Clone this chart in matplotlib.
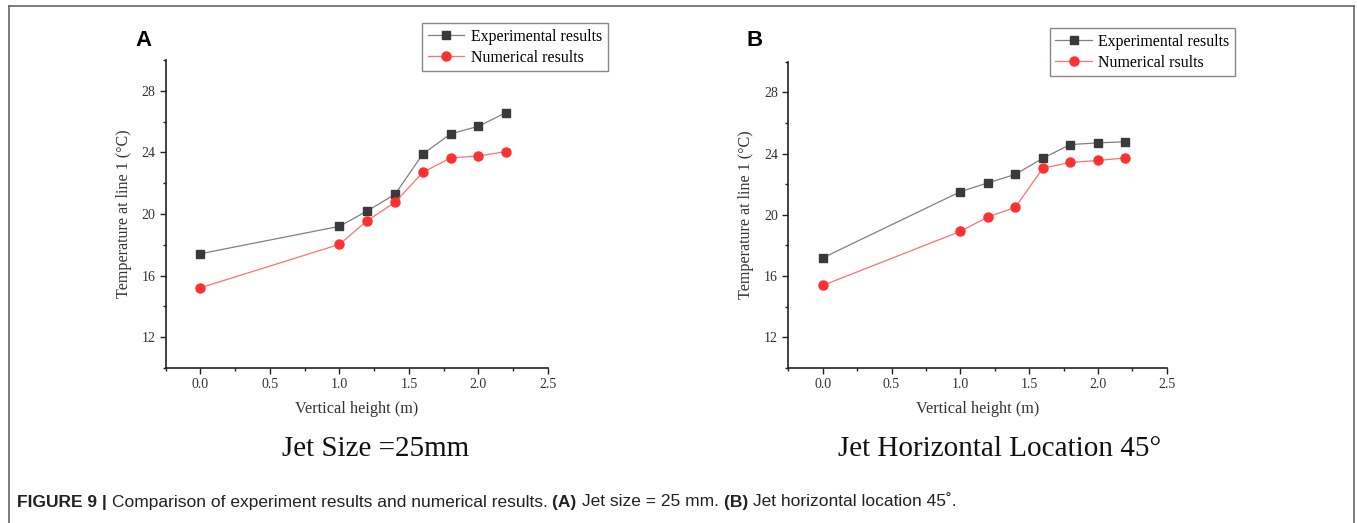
import numpy as np
import matplotlib
matplotlib.use("Agg")
import matplotlib.pyplot as plt
from matplotlib.lines import Line2D
from matplotlib.ticker import MultipleLocator

# data
height = [0.0, 1.0, 1.2, 1.4, 1.6, 1.8, 2.0, 2.2]
exp_a = [17.42, 19.20, 20.20, 21.28, 23.90, 25.20, 25.70, 26.59]
num_a = [15.21, 18.03, 19.57, 20.76, 22.71, 23.64, 23.77, 24.05]
exp_b = [17.19, 21.51, 22.09, 22.64, 23.70, 24.59, 24.70, 24.77]
num_b = [15.39, 18.92, 19.86, 20.49, 23.05, 23.42, 23.55, 23.72]
yticks = [12, 16, 20, 24, 28]
xticks = [0.0, 0.5, 1.0, 1.5, 2.0, 2.5]

serif = "Liberation Serif"
W, H = 1357, 523
fig = plt.figure(figsize=(W / 100, H / 100), dpi=100)


def panel(rect, exp, num, num_label, letter, letter_xy, leg_anchor, subtitle, sub_xy):
    ax = fig.add_axes(rect)
    ax.plot(height, exp, color="#808080", lw=0.9, marker="s", ms=5.5,
            mfc="#3a3a3a", mec="#3a3a3a", label="Experimental results", zorder=3)
    ax.plot(height, num, color="#ff7070", lw=0.9, marker="o", ms=6.5,
            mfc="#ff3030", mec="#ff3030", label=num_label, zorder=3)
    ax.set_xlim(-0.25, 2.5)
    ax.set_ylim(10, 30)
    ax.set_xticks(xticks)
    ax.set_yticks(yticks)
    ax.xaxis.set_minor_locator(MultipleLocator(0.25))
    ax.yaxis.set_minor_locator(MultipleLocator(2))
    ax.set_xticklabels([f"{t:.1f}" for t in xticks], fontfamily=serif, fontsize=10, color="#333333")
    ax.set_yticklabels([str(t) for t in yticks], fontfamily=serif, fontsize=10, color="#333333")
    ax.tick_params(which="major", direction="out", length=4, width=1, color="#222222")
    ax.tick_params(which="minor", direction="out", length=2.5, width=1, color="#222222")
    for s in ["top", "right"]:
        ax.spines[s].set_visible(False)
    for s in ["left", "bottom"]:
        ax.spines[s].set_linewidth(1.2)
        ax.spines[s].set_color("#222222")
    ax.set_xlabel("Vertical height (m)", fontfamily=serif, fontsize=11.7, color="#333333", labelpad=7)
    ax.set_ylabel("Temperature at line 1 (\u00b0C)", fontfamily=serif, fontsize=11.6, color="#333333", labelpad=7)
    leg = ax.legend(loc="upper right", bbox_to_anchor=leg_anchor, bbox_transform=fig.transFigure,
                    borderaxespad=0, fancybox=False, framealpha=1, edgecolor="#888888",
                    prop={"family": serif, "size": 11.4}, handlelength=2.3, labelspacing=0.3,
                    borderpad=0.35, handletextpad=0.4)
    leg.get_frame().set_linewidth(1.0)
    fig.text(letter_xy[0] / W, 1 - letter_xy[1] / H, letter, fontfamily="Liberation Sans",
             fontweight="bold", fontsize=16, ha="center", va="center")
    fig.text(sub_xy[0] / W, 1 - sub_xy[1] / H, subtitle, fontfamily=serif, fontsize=21,
             ha="center", va="center", color="#111111")
    return ax


panel([165.7 / W, 1 - 368 / H, 382.3 / W, 308 / H], exp_a, num_a, "Numerical results",
      "A", (143, 40), (607.5 / W, 1 - 23.5 / H), "Jet Size =25mm", (376, 449))
panel([788.3 / W, 1 - 368 / H, 378.4 / W, 306.3 / H], exp_b, num_b, "Numerical rsults",
      "B", (755, 40), (1235 / W, 1 - 28.5 / H), "Jet Horizontal Location 45\u00b0", (1000, 449))

# outer frame (open at the bottom)
frame_kw = dict(color="#666666", lw=1.2, transform=fig.transFigure)
fig.add_artist(Line2D([9 / W, 1354 / W], [1 - 6 / H, 1 - 6 / H], **frame_kw))
fig.add_artist(Line2D([9 / W, 9 / W], [1 - 6 / H, 0], **frame_kw))
fig.add_artist(Line2D([1354 / W, 1354 / W], [1 - 6 / H, 0], **frame_kw))

# caption, written piece by piece so bold and regular parts sit side by side
caption = [("FIGURE 9 | ", "bold"),
           ("Comparison of experiment results and numerical results. ", "normal"),
           ("(A) ", "bold"), ("Jet size = 25 mm. ", "normal"),
           ("(B) ", "bold"), ("Jet horizontal location 45\u02da.", "normal")]
renderer = fig.canvas.get_renderer()
x = 17
for piece, weight in caption:
    t = fig.text(x / W, 1 - 502 / H, piece, fontfamily="Liberation Sans", fontweight=weight,
                 fontsize=12.5, ha="left", va="center", color="#222222")
    x += t.get_window_extent(renderer).width

fig.savefig("out.png", dpi=100, facecolor="white")
